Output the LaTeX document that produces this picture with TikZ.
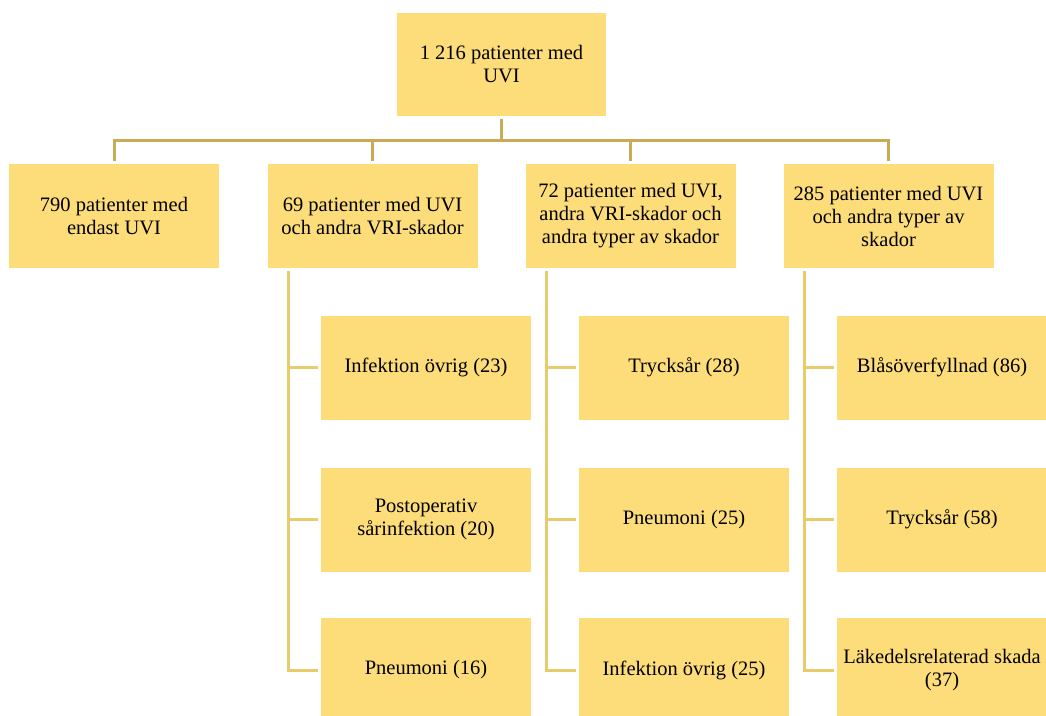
\documentclass[tikz,border=0pt]{standalone}
\usepackage{fontspec}
\setmainfont{Liberation Serif}
\definecolor{boxfill}{RGB}{253,220,122}
\definecolor{busline}{RGB}{201,171,85}
\definecolor{colline}{RGB}{232,203,107}
\begin{document}
\begin{tikzpicture}[x=1pt,y=-1pt,
  box/.style={fill=boxfill,draw=none,minimum width=210pt,minimum height=104pt,inner sep=0pt,align=center,font=\fontsize{20.5}{23}\selectfont,text=black},
  bus/.style={draw=busline,line width=3pt},
  col/.style={draw=colline,line width=3pt}]
\useasboundingbox (0,0) rectangle (1046,715);
\clip (0,0) rectangle (1046,715);
% top
\node[box,minimum width=209pt,minimum height=103pt] (top) at (501.5,64.5) {1 216 patienter med\\UVI};
% level 1
\node[box] (a1) at (114,216) {790 patienter med\\endast UVI};
\node[box] (a2) at (372.5,216) {69 patienter med UVI\\och andra VRI-skador};
\node[box] (a3) at (630.5,216) {72 patienter med UVI,\\andra VRI-skador och\\andra typer av skador};
\node[box] (a4) at (888.5,216) {285 patienter med UVI\\och andra typer av\\skador};
% level 2
\node[box] (b21) at (426,367.5) {Infektion övrig (23)};
\node[box] (b22) at (426,519.5) {Postoperativ\\sårinfektion (20)};
\node[box] (b23) at (426,670) {Pneumoni (16)};
\node[box] (b31) at (684,367.5) {Trycksår (28)};
\node[box] (b32) at (684,519.5) {Pneumoni (25)};
\node[box] (b33) at (684,670) {Infektion övrig (25)};
\node[box] (b41) at (942,367.5) {Blåsöverfyllnad (86)};
\node[box] (b42) at (942,519.5) {Trycksår (58)};
\node[box] (b43) at (942,670) {Läkedelsrelaterad skada\\(37)};
% bus
\coordinate (bus) at (0,140);
\draw[bus,shorten <=3pt] (top.south) -- (top.south |- bus);
\draw[bus,shorten <=3pt,shorten >=3pt] (a1.north) |- (a4.north |- bus) -- (a4.north);
\draw[bus,shorten >=3pt] (a2.north |- bus) -- (a2.north);
\draw[bus,shorten >=3pt] (a3.north |- bus) -- (a3.north);
% columns
\foreach \p/\c in {a2/b2,a3/b3,a4/b4}{
  \coordinate (\c top) at ([xshift=21pt]\p.south west);
  \draw[col,shorten <=3pt,shorten >=3pt] (\c top) |- (\c3.west);
  \draw[col,shorten >=3pt] (\c top |- \c1.west) -- (\c1.west);
  \draw[col,shorten >=3pt] (\c top |- \c2.west) -- (\c2.west);
}
\end{tikzpicture}
\end{document}
